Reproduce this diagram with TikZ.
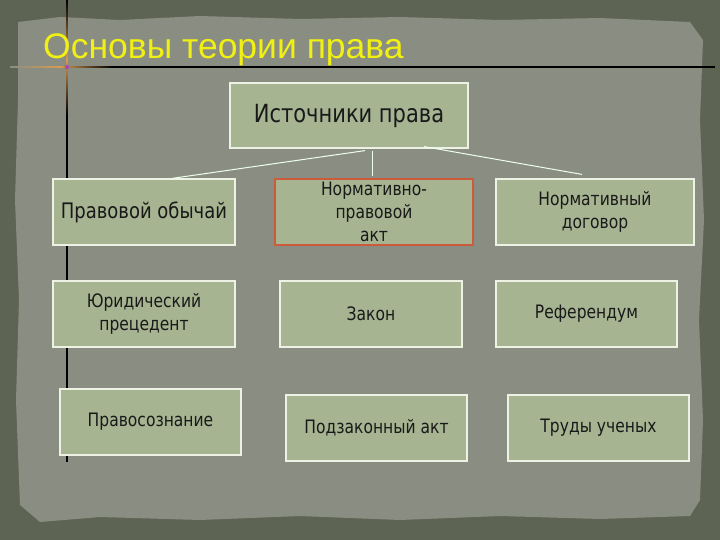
\documentclass[tikz,border=0pt]{standalone}
\usepackage{fontspec}
\setmainfont[FakeStretch=0.84]{DejaVu Sans}
\newfontfamily\titlefont{Liberation Sans}
\usetikzlibrary{calc}
\definecolor{outerbg}{HTML}{5E6454}
\definecolor{innerbg}{HTML}{8A8E82}
\definecolor{boxfill}{HTML}{A6B492}
\definecolor{boxline}{HTML}{EEF2E4}
\definecolor{redline}{HTML}{CE5A3C}
\definecolor{titleyellow}{HTML}{F0F014}
\definecolor{crossorange}{HTML}{D89A50}
\tikzset{
  box/.style={draw=boxline, line width=1.2pt, fill=boxfill, align=center,
    inner sep=2pt, font=\fontsize{18.5}{23}\selectfont, text=black!90},
  link/.style={draw=white!92!green, line width=1pt},
}
\begin{document}
\begin{tikzpicture}[x=1pt,y=-1pt]
\useasboundingbox (0,0) rectangle (720,540);
% background
\fill[outerbg] (0,0) rectangle (720,540);
\fill[innerbg] (18,22) -- (60,17) -- (120,20) -- (200,16) -- (300,19) -- (400,17)
  -- (500,20) -- (600,18) -- (690,22) -- (703,40) -- (700,120) -- (704,220)
  -- (699,320) -- (703,420) -- (700,500) -- (690,516) -- (600,519) -- (500,516)
  -- (400,520) -- (300,516) -- (200,520) -- (100,517) -- (40,522) -- (20,505)
  -- (16,400) -- (19,300) -- (15,200) -- (18,100) -- cycle;
% decorative lines
\draw[black, line width=1.3pt] (67,0) -- (67,462);
\draw[black, line width=1.3pt] (110,67) -- (715,67);
\shade[left color=innerbg, right color=crossorange] (10,66.2) rectangle (60,67.8);
\shade[left color=crossorange, right color=black] (60,66.2) rectangle (112,67.8);
\shade[top color=black, bottom color=crossorange] (66.2,0) rectangle (67.8,60);
\shade[top color=crossorange, bottom color=black] (66.2,60) rectangle (67.8,115);
\fill[violet!70] (67,67) circle (2.2);
% title
\node[anchor=base west, text=titleyellow, font=\titlefont\fontsize{35.5}{40}\selectfont,
  inner sep=0pt] (title) at (43,59) {Основы теории права};
% boxes
\node[box, minimum width=238, minimum height=65, font=\fontsize{25}{28}\selectfont]
  (src) at (349,115.5) {Источники права};
\node[box, minimum width=182, minimum height=66, font=\fontsize{21.4}{23}\selectfont]
  (a) at (144,212) {Правовой обычай};
\node[box, draw=redline, minimum width=198, minimum height=66] (b) at (374,212)
  {Нормативно-\\правовой\\ акт};
\node[box, minimum width=198, minimum height=66] (c) at (595,212) {Нормативный\\договор};
\node[box, minimum width=182, minimum height=66] (d) at (144,314) {Юридический\\ прецедент};
\node[box, minimum width=182, minimum height=66] (e) at (371,314) {Закон};
\node[box, minimum width=181, minimum height=66] (f) at (586.5,314) {Референдум};
\node[box, minimum width=181, minimum height=66] (g) at (150.5,422) {Правосознание};
\node[box, minimum width=181, minimum height=66] (h) at (376.5,428) {Подзаконный акт};
\node[box, minimum width=181, minimum height=66] (i) at (598.5,428) {Труды ученых};
% connectors
\draw[link] ($(src.south)+(16,2)$) -- ($(a.north)+(28,0)$);
\draw[link] ($(src.south)+(23,2)$) -- ($(b.north)+(-2,-2)$);
\draw[link] ($(src.south)+(75,-2)$) -- ($(c.north)+(-13,-4)$);
\end{tikzpicture}
\end{document}
